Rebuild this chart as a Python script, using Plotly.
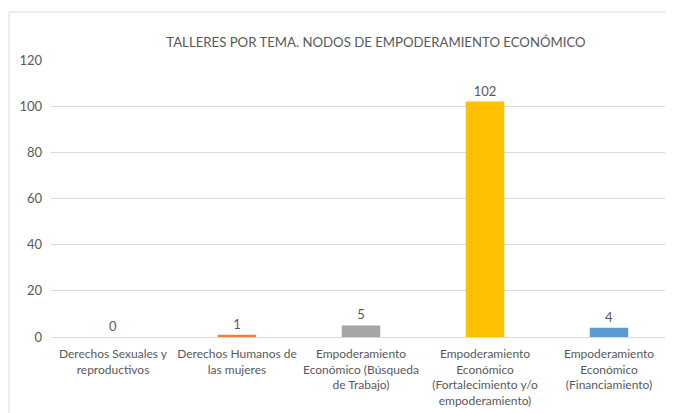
import plotly.graph_objects as go

categories = [
    "Derechos Sexuales y<br>reproductivos",
    "Derechos Humanos de<br>las mujeres",
    "Empoderamiento<br>Económico (Búsqueda<br>de Trabajo)",
    "Empoderamiento<br>Económico<br>(Fortalecimiento y/o<br>empoderamiento)",
    "Empoderamiento<br>Económico<br>(Financiamiento)",
]
values = [0, 1, 5, 102, 4]
colors = ["#4472C4", "#ED7D31", "#A5A5A5", "#FFC000", "#5B9BD5"]
y_ticks = [0, 20, 40, 60, 80, 100, 120]
title = "TALLERES POR TEMA. NODOS DE EMPODERAMIENTO ECONÓMICO"

FONT = "Lato"
GREY = "#595959"

# page has an 8px body margin, so the figure is 8px smaller and offsets shifted
W, H = 665, 405
L, R, T, B = 43, 2, 52, 76
PW = W - L - R
PH = H - T - B

fig = go.Figure(
    go.Bar(
        x=categories,
        y=values,
        marker=dict(color=colors, line=dict(width=0)),
        text=[str(v) for v in values],
        textposition="outside",
        textfont=dict(family=FONT, size=13, color=GREY),
        cliponaxis=False,
        width=0.31,
    )
)

fig.update_layout(
    width=W,
    height=H,
    margin=dict(l=L, r=R, t=T, b=B),
    paper_bgcolor="white",
    plot_bgcolor="white",
    showlegend=False,
    font=dict(family=FONT, color=GREY),
    title=dict(
        text=title,
        x=(376 - 8) / W,
        xanchor="center",
        y=1 - 34 / H,
        yanchor="middle",
        font=dict(family=FONT, size=13.2, color=GREY),
    ),
    xaxis=dict(
        showgrid=False,
        showline=False,
        zeroline=False,
        tickfont=dict(family=FONT, size=12, color=GREY),
        ticks="",
        tickangle=0,
        ticklabelstandoff=8,
    ),
    yaxis=dict(
        range=[0, 120],
        tickvals=y_ticks,
        showgrid=True,
        gridcolor="#D9D9D9",
        gridwidth=1,
        zeroline=True,
        zerolinecolor="#D9D9D9",
        zerolinewidth=1,
        showline=False,
        tickfont=dict(family=FONT, size=13, color=GREY),
        ticks="",
        ticklabelstandoff=8,
    ),
    shapes=[
        dict(type="line", xref="paper", yref="paper",
             x0=(1 - L) / PW, x1=1.05, y0=(T + PH - 4) / PH, y1=(T + PH - 4) / PH,
             line=dict(color="#D9D9D9", width=1)),
        dict(type="line", xref="paper", yref="paper",
             x0=(1 - L) / PW, x1=(1 - L) / PW, y0=(T + PH - 4) / PH, y1=-0.4,
             line=dict(color="#D9D9D9", width=1)),
    ],
)

fig.write_html("out.html")
